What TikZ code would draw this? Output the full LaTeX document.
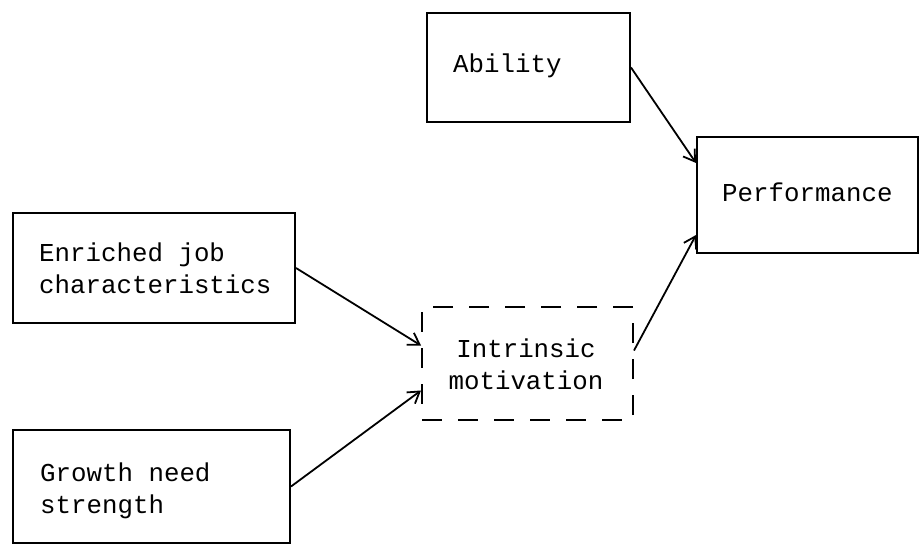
\documentclass[tikz,border=0pt]{standalone}
\usepackage{fontspec}
\setmonofont{Liberation Mono}
\usetikzlibrary{arrows.meta}
\tikzset{
  box/.style={draw, line width=2pt, rectangle, inner sep=0pt},
  dbox/.style={box, dash pattern=on 20pt off 16pt},
  txt/.style={font=\ttfamily\fontsize{25.8}{32}\selectfont, align=left, inner sep=0pt},
  conn/.style={line width=1.8pt, -{Straight Barb[length=11pt,width=14pt,line width=1.8pt]}}
}
\begin{document}
\begin{tikzpicture}[x=1pt,y=-1pt]
\useasboundingbox (0,0) rectangle (921,546);
% boxes
\node[box, minimum width=203pt, minimum height=109pt] (abil) at (528.5,67.5) {};
\node[box, minimum width=221pt, minimum height=116pt] (perf) at (807.5,195) {};
\node[box, minimum width=282pt, minimum height=110pt] (enr) at (154,268) {};
\node[dbox, minimum width=211pt, minimum height=113pt] (intr) at (527.5,363.5) {};
\node[box, minimum width=277pt, minimum height=113pt] (grow) at (151.5,486.5) {};
% texts
\node[txt, anchor=west] (abilt) at (453,66) {Ability};
\node[txt, anchor=west] (perft) at (722,192) {Performance};
\node[txt, anchor=west] (enrt) at (39,268) {Enriched job\\characteristics};
\node[txt, align=center] (intrt) at (526,364) {Intrinsic\\motivation};
\node[txt, anchor=west] (growt) at (40,491) {Growth need\\strength};
% connectors
\draw[conn] (abil.east) -- ([yshift=32pt]perf.west);
\draw[conn] (enr.east) -- ([yshift=18pt]intr.west);
\draw[conn] (grow.east) -- ([yshift=-27pt]intr.west);
\draw[conn] ([yshift=13pt]intr.east) -- ([yshift=-40pt]perf.west);
\end{tikzpicture}
\end{document}
